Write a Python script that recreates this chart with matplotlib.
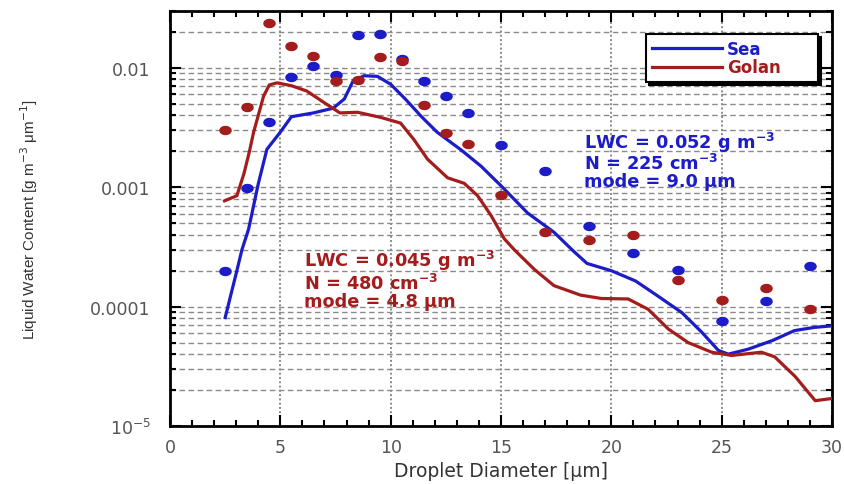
import matplotlib
matplotlib.use("Agg")
import matplotlib.pyplot as plt
import numpy as np
from matplotlib.path import Path
from matplotlib.ticker import LogLocator, MultipleLocator, NullFormatter

# droplet size bins of the dots
bin_d = [2.5, 3.5, 4.5, 5.5, 6.5, 7.5, 8.5, 9.5, 10.5, 11.5, 12.5, 13.5, 15, 17, 19, 21, 23, 25, 27, 29]
sea_dots = [2.0e-4, 9.9e-4, 3.55e-3, 8.4e-3, 1.04e-2, 8.8e-3, 1.9e-2, 1.93e-2, 1.19e-2, 7.8e-3,
            5.8e-3, 4.2e-3, 2.26e-3, 1.37e-3, 4.7e-4, 2.84e-4, 2.02e-4, 7.6e-5, 1.12e-4, 2.17e-4]
golan_dots = [3.0e-3, 4.7e-3, 2.4e-2, 1.53e-2, 1.27e-2, 7.7e-3, 7.9e-3, 1.23e-2, 1.14e-2, 4.85e-3,
              2.87e-3, 2.32e-3, 8.6e-4, 4.26e-4, 3.62e-4, 3.96e-4, 1.67e-4, 1.13e-4, 1.42e-4, 9.5e-5]

# fitted curves
sea_x = [2.5, 3.0, 3.26, 3.56, 4.0, 4.39, 5.0, 5.5, 6.5, 7.4, 7.9, 8.3, 8.8, 9.4, 10.0, 10.7, 11.4,
         12.1, 13.2, 14.1, 15.0, 16.2, 17.4, 18.3, 18.9, 20.0, 21.1, 22.1, 23.2, 24.1, 24.85, 25.3,
         26.2, 27.3, 28.3, 29.2, 30.0]
sea_y = [8.1e-5, 1.9e-4, 3.0e-4, 4.45e-4, 1.07e-3, 2.08e-3, 2.9e-3, 3.9e-3, 4.2e-3, 4.6e-3, 5.5e-3,
         7.8e-3, 8.6e-3, 8.5e-3, 7.3e-3, 5.4e-3, 3.9e-3, 2.9e-3, 2.05e-3, 1.5e-3, 1.03e-3, 6.1e-4,
         4.2e-4, 2.9e-4, 2.3e-4, 2.0e-4, 1.64e-4, 1.23e-4, 8.9e-5, 6.1e-5, 4.3e-5, 4.0e-5, 4.4e-5,
         5.2e-5, 6.3e-5, 6.7e-5, 6.9e-5]
golan_x = [2.47, 3.03, 3.35, 3.6, 3.79, 4.24, 4.5, 4.85, 5.5, 6.2, 7.0, 7.7, 8.5, 9.55, 10.45, 11.06,
           11.67, 12.58, 13.33, 13.94, 14.55, 15.15, 15.6, 16.5, 17.4, 18.6, 19.55, 20.76, 21.67,
           22.58, 23.48, 24.55, 25.45, 26.8, 27.4, 28.33, 29.24, 30.0]
golan_y = [7.7e-4, 8.5e-4, 1.3e-3, 2.0e-3, 2.9e-3, 5.8e-3, 7.2e-3, 7.5e-3, 7.1e-3, 6.4e-3, 5.1e-3,
           4.2e-3, 4.25e-3, 3.85e-3, 3.45e-3, 2.5e-3, 1.72e-3, 1.2e-3, 1.08e-3, 8.5e-4, 5.8e-4,
           3.7e-4, 3.0e-4, 2.06e-4, 1.5e-4, 1.25e-4, 1.17e-4, 1.16e-4, 9.5e-5, 6.5e-5, 5.0e-5,
           4.15e-5, 3.9e-5, 4.15e-5, 3.8e-5, 2.6e-5, 1.63e-5, 1.7e-5]

ytick_vals = [1e-5, 1e-4, 1e-3, 1e-2]
ytick_labels = ["10$^{-5}$", "0.0001", "0.001", "0.01"]

blue = "#1c1cc8"
red = "#a41c1c"
tick_grey = "#555555"

# slightly flattened dot, like the original
t = np.linspace(0, 2 * np.pi, 40)
ell = Path(np.column_stack([np.cos(t), 0.72 * np.sin(t)]), closed=True)

fig = plt.figure(figsize=(8.45, 4.85), dpi=100)
ax = fig.add_axes([0.2012, 0.1196, 0.7834, 0.8557])

ax.plot(sea_x, sea_y, color=blue, lw=2.3, label="Sea", zorder=3)
ax.plot(golan_x, golan_y, color=red, lw=2.3, label="Golan", zorder=3)
ax.plot(bin_d, sea_dots, ls="", marker=ell, ms=8, color=blue, zorder=4)
ax.plot(bin_d, golan_dots, ls="", marker=ell, ms=8, color=red, zorder=4)

ax.set_yscale("log")
ax.set_xlim(0, 30)
ax.set_ylim(1e-5, 0.03)

ax.xaxis.set_major_locator(MultipleLocator(5))
ax.xaxis.set_minor_locator(MultipleLocator(1))
ax.set_yticks(ytick_vals)
ax.set_yticklabels(ytick_labels)
ax.yaxis.set_minor_locator(LogLocator(base=10, subs=np.arange(2, 10)))
ax.yaxis.set_minor_formatter(NullFormatter())

ax.tick_params(which="both", direction="in", top=True, right=True, width=1.5, colors="black")
ax.tick_params(which="major", length=8)
ax.tick_params(which="minor", length=4.5)
ax.tick_params(axis="y", which="major", pad=14, labelsize=12.5, labelcolor=tick_grey)
ax.tick_params(axis="x", which="major", pad=9, labelsize=12.5, labelcolor=tick_grey)

for s in ax.spines.values():
    s.set_linewidth(2)

ax.yaxis.grid(True, which="both", ls=(0, (4, 2.5)), color="#8a8a8a", lw=1)
ax.xaxis.grid(True, which="major", ls=(0, (1, 1.2)), color="#8a8a8a", lw=1.4)
ax.set_axisbelow(True)

ax.set_xlabel("Droplet Diameter [\u03bcm]", fontsize=13.5, color="#333333", labelpad=3)
ax.set_ylabel("Liquid Water Content [g m$^{-3}$ \u03bcm$^{-1}$]", fontsize=11,
              family="Liberation Sans", color="#333333", labelpad=36)

leg = ax.legend(loc="upper left", bbox_to_anchor=(0.719, 0.836, 0.26, 0.109), mode="expand",
                borderaxespad=0, fancybox=False, frameon=True, handlelength=4.2,
                prop={"weight": "bold", "size": 12}, labelspacing=0.05,
                borderpad=0.35, handletextpad=0.3,
                shadow={"color": "black", "alpha": 1})
leg.get_frame().set_edgecolor("black")
leg.get_frame().set_linewidth(1.5)
for txt, c in zip(leg.get_texts(), [blue, red]):
    txt.set_color(c)

sea_txt = ["LWC = 0.052 g m$^{\\mathbf{-3}}$", "N = 225 cm$^{\\mathbf{-3}}$", "mode = 9.0 \u03bcm"]
sea_ty = [2.15e-3, 1.42e-3, 1.03e-3]
golan_txt = ["LWC = 0.045 g m$^{\\mathbf{-3}}$", "N = 480 cm$^{\\mathbf{-3}}$", "mode = 4.8 \u03bcm"]
golan_ty = [2.19e-4, 1.40e-4, 1.02e-4]
for s, yy in zip(sea_txt, sea_ty):
    ax.text(18.77, yy, s, color=blue, fontsize=12.8, fontweight="bold", va="baseline", zorder=5)
for s, yy in zip(golan_txt, golan_ty):
    ax.text(6.09, yy, s, color=red, fontsize=12.8, fontweight="bold", va="baseline", zorder=5)

fig.savefig("out.png", dpi=100)
